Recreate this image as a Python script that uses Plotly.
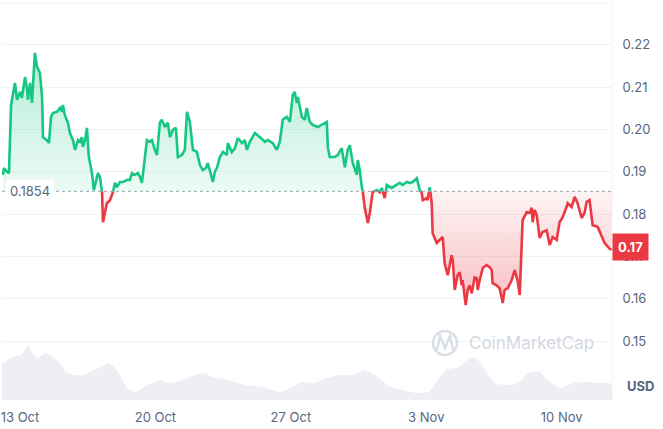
import plotly.graph_objects as go
import pandas as pd

start = pd.Timestamp("2024-10-12")
base_price = 0.1854

day_offset = [
    0.12, 0.17, 0.33, 0.43, 0.54, 0.74, 0.85, 1.00, 1.10, 1.26,
    1.36, 1.41, 1.52, 1.62, 1.77, 1.88, 2.03, 2.14, 2.19, 2.39,
    2.50, 2.60, 2.70, 2.91, 3.07, 3.17, 3.22, 3.32, 3.48, 3.58,
    3.74, 3.84, 4.00, 4.10, 4.20, 4.25, 4.36, 4.46, 4.56, 4.72,
    4.82, 4.98, 5.03, 5.13, 5.24, 5.29, 5.39, 5.49, 5.65, 5.80,
    5.91, 6.01, 6.17, 6.32, 6.53, 6.68, 6.79, 6.94, 7.10, 7.20,
    7.30, 7.46, 7.56, 7.71, 7.82, 7.97, 8.08, 8.23, 8.33, 8.49,
    8.64, 8.75, 8.90, 9.06, 9.16, 9.37, 9.52, 9.63, 9.78, 9.94,
    10.14, 10.30, 10.45, 10.61, 10.71, 10.81, 10.97, 11.07, 11.18, 11.33,
    11.49, 11.69, 11.74, 11.95, 12.11, 12.26, 12.47, 12.62, 12.73, 12.88,
    13.04, 13.14, 13.40, 13.66, 13.81, 14.07, 14.27, 14.43, 14.58, 14.79,
    14.95, 15.10, 15.20, 15.31, 15.36, 15.57, 15.72, 15.82, 15.98, 16.13,
    16.39, 16.60, 16.75, 16.86, 16.91, 17.01, 17.27, 17.43, 17.63, 17.79,
    17.94, 18.05, 18.20, 18.41, 18.46, 18.56, 18.67, 18.72, 18.82, 18.98,
    19.08, 19.18, 19.23, 19.44, 19.60, 19.70, 19.85, 19.96, 20.21, 20.47,
    20.63, 20.78, 20.99, 21.14, 21.30, 21.51, 21.66, 21.76, 21.82, 22.02,
    22.07, 22.18, 22.28, 22.33, 22.54, 22.69, 22.85, 22.95, 23.11, 23.31,
    23.37, 23.47, 23.62, 23.73, 23.83, 23.88, 24.04, 24.14, 24.24, 24.35,
    24.50, 24.61, 24.66, 24.76, 24.92, 25.12, 25.28, 25.38, 25.43, 25.64,
    25.79, 25.90, 25.95, 26.05, 26.21, 26.41, 26.57, 26.67, 26.72, 26.83,
    26.93, 26.98, 27.19, 27.34, 27.45, 27.50, 27.60, 27.71, 27.86, 28.01,
    28.22, 28.38, 28.53, 28.74, 28.89, 29.05, 29.25, 29.31, 29.51, 29.67,
    29.82, 30.03, 30.18, 30.29, 30.44, 30.60, 30.86, 31.06, 31.22, 31.48,
    31.63,
]

price = [
    0.1893, 0.1909, 0.1900, 0.1897, 0.2058, 0.2110, 0.2070, 0.2089, 0.2075, 0.2124,
    0.2098, 0.2070, 0.2110, 0.2063, 0.2181, 0.2148, 0.2134, 0.2077, 0.1982, 0.1975,
    0.1968, 0.2030, 0.2039, 0.2042, 0.2051, 0.2042, 0.2058, 0.2034, 0.2016, 0.1992,
    0.1975, 0.1952, 0.1975, 0.1971, 0.1982, 0.1959, 0.1975, 0.2004, 0.1935, 0.1897,
    0.1857, 0.1893, 0.1897, 0.1888, 0.1852, 0.1781, 0.1805, 0.1826, 0.1833, 0.1850,
    0.1874, 0.1864, 0.1876, 0.1876, 0.1881, 0.1881, 0.1897, 0.1893, 0.1897, 0.1888,
    0.1874, 0.1935, 0.1975, 0.1971, 0.1975, 0.1952, 0.1940, 0.2016, 0.2023, 0.2006,
    0.2016, 0.1982, 0.1999, 0.2004, 0.1935, 0.1940, 0.1952, 0.2042, 0.2018, 0.1952,
    0.1947, 0.1916, 0.1904, 0.1909, 0.1921, 0.1904, 0.1876, 0.1900, 0.1909, 0.1935,
    0.1947, 0.1940, 0.1968, 0.1947, 0.1956, 0.1980, 0.1968, 0.1975, 0.1952, 0.1971,
    0.1982, 0.1992, 0.1982, 0.1971, 0.1975, 0.1968, 0.1952, 0.1971, 0.2023, 0.2030,
    0.2018, 0.2082, 0.2089, 0.2063, 0.2077, 0.2030, 0.2023, 0.2051, 0.2018, 0.2011,
    0.2006, 0.2011, 0.2016, 0.2018, 0.1959, 0.1935, 0.1935, 0.1940, 0.1956, 0.1911,
    0.1952, 0.1963, 0.1921, 0.1893, 0.1928, 0.1904, 0.1864, 0.1852, 0.1815, 0.1779,
    0.1803, 0.1833, 0.1852, 0.1857, 0.1852, 0.1862, 0.1838, 0.1869, 0.1862, 0.1869,
    0.1874, 0.1869, 0.1876, 0.1874, 0.1876, 0.1885, 0.1857, 0.1852, 0.1833, 0.1838,
    0.1833, 0.1864, 0.1826, 0.1755, 0.1732, 0.1739, 0.1746, 0.1684, 0.1656, 0.1703,
    0.1692, 0.1621, 0.1656, 0.1663, 0.1632, 0.1644, 0.1585, 0.1621, 0.1632, 0.1613,
    0.1651, 0.1649, 0.1621, 0.1644, 0.1673, 0.1680, 0.1675, 0.1668, 0.1637, 0.1632,
    0.1625, 0.1602, 0.1590, 0.1621, 0.1625, 0.1644, 0.1668, 0.1651, 0.1644, 0.1609,
    0.1708, 0.1786, 0.1805, 0.1803, 0.1815, 0.1781, 0.1810, 0.1798, 0.1744, 0.1758,
    0.1762, 0.1727, 0.1746, 0.1739, 0.1781, 0.1793, 0.1817, 0.1826, 0.1817, 0.1841,
    0.1826, 0.1791, 0.1803, 0.1829, 0.1833, 0.1774, 0.1770, 0.1751, 0.1732, 0.1718,
    0.1716,
]

vol_day_offset = [
    0.07, 0.17, 0.54, 1.05, 1.46, 1.62, 1.93, 2.29, 2.60, 3.07,
    3.38, 3.79, 4.36, 4.77, 5.24, 5.55, 5.91, 6.22, 6.53, 6.99,
    7.40, 7.87, 8.28, 8.75, 9.42, 10.04, 10.50, 10.92, 11.80, 12.67,
    13.55, 14.43, 15.10, 15.57, 16.19, 16.86, 17.53, 18.20, 18.82, 19.49,
    20.16, 20.83, 21.45, 22.13, 22.49, 23.00, 23.68, 24.09, 24.45, 24.76,
    25.12, 25.54, 26.11, 26.72, 27.29, 27.86, 28.27, 28.94, 29.61, 30.29,
    30.91, 31.48, 31.68,
]
volume_m = [
    40, 37, 43, 45, 55, 47, 42, 47, 44, 37,
    28, 25, 25, 30, 33, 37, 32, 23, 12, 8,
    13, 17, 20, 17, 20, 25, 27, 23, 20, 15,
    13, 8, 13, 18, 17, 22, 25, 25, 30, 23,
    13, 10, 7, 8, 17, 30, 33, 40, 43, 38,
    28, 17, 15, 17, 27, 28, 20, 12, 17, 18,
    17, 17, 12,
]

x_tick_dates = ["2024-10-13", "2024-10-20", "2024-10-27", "2024-11-03", "2024-11-10"]
x_tick_labels = ["13 Oct", "20 Oct", "27 Oct", "3 Nov", "10 Nov"]
y_ticks = [0.15, 0.16, 0.17, 0.18, 0.19, 0.20, 0.21, 0.22]

GREEN = "#16c784"
RED = "#ea3943"
GREY_TXT = "#58667e"
FONT = "Inter"

# split the price line into above/below-baseline parts (crossings added for continuity)
ts, all_p, g_y, r_y = [], [], [], []
for i, (d, p) in enumerate(zip(day_offset, price)):
    if i > 0:
        d0, p0 = day_offset[i - 1], price[i - 1]
        if (p0 - base_price) * (p - base_price) < 0:
            dc = d0 + (base_price - p0) / (p - p0) * (d - d0)
            ts.append(dc); all_p.append(base_price)
            g_y.append(base_price); r_y.append(base_price)
    ts.append(d); all_p.append(p)
    if p >= base_price:
        g_y.append(p); r_y.append(None)
    else:
        r_y.append(p); g_y.append(None)

times = [start + pd.Timedelta(days=d) for d in ts]
vol_times = [start + pd.Timedelta(days=d) for d in vol_day_offset]
fill_g = [max(p, base_price) for p in all_p]
fill_r = [min(p, base_price) for p in all_p]
base_line = [base_price] * len(times)

fig = go.Figure()
fig.add_trace(go.Scatter(x=times, y=base_line, mode="lines", line=dict(width=0),
                         hoverinfo="skip", showlegend=False))
fig.add_trace(go.Scatter(x=times, y=fill_g, mode="lines", line=dict(width=0),
                         fill="tonexty",
                         fillgradient=dict(type="vertical",
                                           colorscale=[[0, "rgba(22,199,132,0.08)"],
                                                       [1, "rgba(22,199,132,0.32)"]],
                                           start=base_price, stop=max(price)),
                         hoverinfo="skip", showlegend=False))
fig.add_trace(go.Scatter(x=times, y=base_line, mode="lines", line=dict(width=0),
                         hoverinfo="skip", showlegend=False))
fig.add_trace(go.Scatter(x=times, y=fill_r, mode="lines", line=dict(width=0),
                         fill="tonexty",
                         fillgradient=dict(type="vertical",
                                           colorscale=[[0, "rgba(234,57,67,0.32)"],
                                                       [1, "rgba(234,57,67,0.06)"]],
                                           start=min(price), stop=base_price),
                         hoverinfo="skip", showlegend=False))
fig.add_trace(go.Scatter(x=times, y=g_y, mode="lines", line=dict(color=GREEN, width=2.6),
                         connectgaps=False, showlegend=False))
fig.add_trace(go.Scatter(x=times, y=r_y, mode="lines", line=dict(color=RED, width=2.6),
                         connectgaps=False, showlegend=False))
fig.add_trace(go.Scatter(x=vol_times, y=volume_m, mode="lines", yaxis="y2",
                         line=dict(width=0, shape="spline", smoothing=0.6),
                         fill="tozeroy", fillcolor="rgba(207,214,228,0.38)",
                         hoverinfo="skip", showlegend=False))

x_range = [start + pd.Timedelta(days=0.07), start + pd.Timedelta(days=31.6)]

fig.update_layout(
    width=663, height=429,
    margin=dict(l=2, r=51, t=3, b=29),
    paper_bgcolor="white", plot_bgcolor="white",
    font=dict(family=FONT, color=GREY_TXT, size=13),
    xaxis=dict(type="date", range=x_range, showgrid=False, zeroline=False,
               tickvals=x_tick_dates, ticktext=x_tick_labels,
               ticks="outside", ticklen=5, tickcolor="rgba(0,0,0,0)",
               tickfont=dict(size=13, color=GREY_TXT)),
    yaxis=dict(side="right", range=[0.1361, 0.2299], tickvals=y_ticks,
               tickformat=".2f", showgrid=True, gridcolor="#eff2f5", gridwidth=1,
               zeroline=False, ticks="outside", ticklen=7, tickcolor="rgba(0,0,0,0)",
               tickfont=dict(size=13, color=GREY_TXT)),
    yaxis2=dict(overlaying="y", range=[0, 397], visible=False),
    shapes=[
        dict(type="line", xref="paper", yref="y", x0=0, x1=1, y0=base_price, y1=base_price,
             line=dict(color="#9aa3b5", width=1, dash="dot")),
        dict(type="line", xref="paper", yref="paper", x0=0, x1=1, y0=1, y1=1,
             line=dict(color="#eff2f5", width=1)),
        dict(type="line", xref="paper", yref="paper", x0=1, x1=1, y0=0, y1=1,
             line=dict(color="#eff2f5", width=1)),
        # watermark logo
        dict(type="circle", xref="paper", yref="paper",
             x0=0.7066, x1=0.7459, y0=0.1134, y1=0.1738,
             line=dict(color="#d9dee7", width=2.5)),
        dict(type="path", xref="paper", yref="paper",
             path="M 0.7131,0.1260 L 0.7180,0.1612 L 0.7262,0.1310 L 0.7344,0.1612 L 0.7393,0.1260",
             line=dict(color="#d9dee7", width=2.5)),
    ],
    annotations=[
        dict(x=0, xref="paper", xanchor="left", xshift=4, y=base_price, yref="y",
             text="0.1854", showarrow=False, bgcolor="white", borderpad=3,
             font=dict(size=13, color=GREY_TXT)),
        dict(x=1, xref="paper", xanchor="left", y=price[-1], yref="y", yshift=3,
             text="<b>0.17</b>", showarrow=False, bgcolor=RED, borderpad=5,
             font=dict(size=13, color="white")),
        dict(x=1, xref="paper", xanchor="left", xshift=13, y=0.01, yref="paper",
             text="<b>USD</b>", showarrow=False, font=dict(size=13, color=GREY_TXT)),
        dict(x=0.762, xref="paper", xanchor="left", y=0.1436, yref="paper", yanchor="middle",
             text="CoinMarketCap", showarrow=False,
             font=dict(size=17, color="#d3d8e2", family=FONT)),
    ],
)

fig.write_html("out.html",
               config={"displayModeBar": False},
               post_script="document.body.style.margin='0';document.body.style.overflow='hidden';")
